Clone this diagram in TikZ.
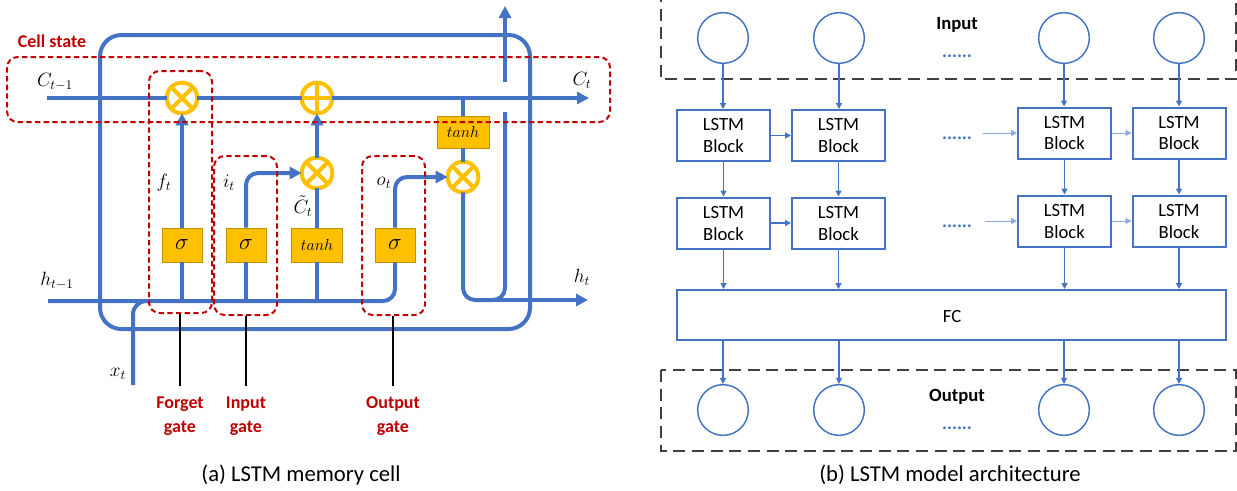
\documentclass[tikz,border=0pt]{standalone}
\usepackage{fontspec}
\setmainfont{Carlito}
\usetikzlibrary{arrows.meta}
\definecolor{lb}{HTML}{4472C4}
\definecolor{ly}{HTML}{FFC000}
\definecolor{lyd}{HTML}{BF9000}
\definecolor{lr}{HTML}{C00000}
\definecolor{dg}{HTML}{404040}
\begin{document}
\begin{tikzpicture}[x=0.75pt,y=-0.75pt,
  bl/.style={draw=lb,line width=3pt},
  arr/.style={-{Triangle[length=9pt,width=9pt]}},
  opc/.style={circle,draw=ly,line width=3pt,fill=white,minimum size=23pt,inner sep=0pt,outer sep=0pt},
  gbox/.style={rectangle,fill=ly,draw=lyd,line width=0.6pt,minimum width=30pt,minimum height=25.5pt,inner sep=0pt,font=\fontsize{13}{15}\selectfont},
  rdash/.style={rectangle,draw=lr,line width=1.5pt,dash pattern=on 4pt off 2.5pt,rounded corners=8pt,inner sep=0pt},
  mlab/.style={font=\fontsize{14}{16}\selectfont,inner sep=1pt},
  glab/.style={text=lr,font=\fontsize{13.5}{18}\selectfont\bfseries,align=center,anchor=north,inner ysep=8pt},
  gline/.style={draw=black,line width=1.2pt},
  captxt/.style={font=\fontsize{17}{20}\selectfont},
  rb/.style={rectangle,draw=lb,line width=1.5pt,fill=white,minimum width=69.75pt,minimum height=38.25pt,align=center,inner sep=0pt,font=\fontsize{14}{16.5}\selectfont},
  rc/.style={circle,draw=lb,line width=1.1pt,minimum size=38pt,inner sep=0pt},
  ra/.style={draw=lb,line width=1pt,-{Triangle[length=4.5pt,width=4.5pt]}},
  rat/.style={draw=lb!60,line width=0.6pt,-{Triangle[length=4.5pt,width=4.5pt]}},
  dbox/.style={draw=dg,line width=1.9pt,dash pattern=on 9pt off 5pt},
  dots/.style={text=lb,font=\fontsize{14}{16}\selectfont\bfseries},
  ttl/.style={font=\fontsize{14}{16}\selectfont\bfseries},
]
\useasboundingbox (0,0) rectangle (1237,490);

% ================= (a) LSTM memory cell =================
% big cell outline
\draw[bl,rounded corners=16pt] (100,35) rectangle (530,329);

% coordinates
\coordinate (cin) at (47,98);
\coordinate (cout) at (589,98);
\coordinate (cbr) at (463,98);
\coordinate (hin) at (48,301);
\coordinate (hk) at (395,301);
\coordinate (hj) at (463,300);
\coordinate (hb) at (505,300);
\coordinate (hout) at (588,300);
\coordinate (gb) at (505,112);
\coordinate (gt) at (505,82);
\coordinate (top) at (505,6);
\coordinate (xin) at (133,385);
\coordinate (xk) at (133,301);
\coordinate (xe) at (152,301);

% operators
\node[opc] (fmul) at (182,98) {};
\node[opc] (plus) at (317,98) {};
\node[opc] (imul) at (317,173) {};
\node[opc] (omul) at (463,177) {};
% boxes
\node[gbox,font=\fontsize{16}{18}\selectfont] (fsig) at (182,245) {$\sigma$};
\node[gbox,font=\fontsize{16}{18}\selectfont] (isig) at (246,245) {$\sigma$};
\node[gbox,minimum width=38pt] (tanh1) at (317,245) {$tanh$};
\node[gbox,font=\fontsize{16}{18}\selectfont] (osig) at (395,245) {$\sigma$};
\node[gbox,minimum width=39pt,minimum height=24pt] (tanh2) at (463,132) {$tanh$};

% cell state line
\draw[bl] (cin) -- (fmul);
\draw[bl] (fmul) -- (plus);
\draw[bl,arr] (plus) -- (cout);
\draw[bl] (cbr) -- (tanh2);
\draw[bl] (tanh2) -- (omul);

% hidden input line
\draw[bl,rounded corners=9pt] (hin) -- (hk) -- (osig.south);
\draw[bl,rounded corners=10pt] (xin) -- (xk) -- (xe);
\draw[bl] (fsig.south) -- (fsig.south |- hin);
\draw[bl] (isig.south) -- (isig.south |- hin);
\draw[bl] (tanh1.south) -- (tanh1.south |- hin);

% gates to operators
\draw[bl,arr] (fsig) -- (fmul);
\draw[bl,arr,rounded corners=9pt] (isig.north) |- (imul.west);
\draw[bl] (tanh1) -- (imul);
\draw[bl,arr] (imul) -- (plus);
\draw[bl,arr,rounded corners=9pt] (osig.north) |- (omul.west);

% output h
\draw[bl,rounded corners=9pt] (omul.south) -- (hj) -- (hb) -- (gb);
\draw[bl,arr] ([xshift=9pt]hj) -- (hout);
\draw[bl,arr] (gt) -- (top);

% operator symbols
\foreach \n in {fmul,imul,omul}{
  \draw[ly,line width=3pt] (\n.north west) -- (\n.south east) (\n.north east) -- (\n.south west);
}
\draw[ly,line width=3pt] (plus.north) -- (plus.south) (plus.west) -- (plus.east);

% red dashed boxes
\node[rdash,minimum width=452.25pt,minimum height=48.75pt] (cs) at (308.5,89.5) {};
\node[rdash,minimum width=47.25pt,minimum height=181.5pt] (fg) at (180.5,192) {};
\node[rdash,minimum width=47.25pt,minimum height=119.25pt] (ig) at (245.5,235.5) {};
\node[rdash,minimum width=47.25pt,minimum height=119.25pt] (og) at (393.5,235.5) {};
\node[text=lr,font=\fontsize{13.5}{16}\selectfont\bfseries] (cst) at (52,41) {Cell state};

% math labels
\node[mlab] (lc1) at (55,82) {$C_{t-1}$};
\node[mlab] (lc2) at (582,80) {$C_t$};
\node[mlab] (lf) at (164,183) {$f_t$};
\node[mlab] (li) at (229,183) {$i_t$};
\node[mlab] (lct) at (303,206) {$\tilde{C}_t$};
\node[mlab] (lo) at (384,183) {$o_t$};
\node[mlab] (lh1) at (57,281) {$h_{t-1}$};
\node[mlab] (lh2) at (582,277) {$h_t$};
\node[mlab] (lx) at (118,374) {$x_t$};

% gate labels
\node[glab] (fgl) at (180,386) {Forget\\gate};
\node[glab] (igl) at (246,386) {Input\\gate};
\node[glab] (ogl) at (393,386) {Output\\gate};
\draw[gline] (fg.south -| fgl) -- (fgl.north);
\draw[gline] (ig.south -| igl) -- (igl.north);
\draw[gline] (og.south -| ogl) -- (ogl.north);

\node[captxt] (capa) at (301,475) {(a) LSTM memory cell};

% ================= (b) LSTM model architecture =================
\draw[dbox] (661,-10) rectangle (1236,79);
\draw[dbox] (661,370) rectangle (1236,451);

\node[rc] (i1) at (723,38) {};
\node[rc] (i2) at (839,38) {};
\node[rc] (i3) at (1064,38) {};
\node[rc] (i4) at (1179,38) {};
\node[ttl] (inp) at (957,25) {Input};
\node[dots] (d0) at (957,56) {......};

\node[rb] (b11) at (723.5,135.5) {LSTM\\Block};
\node[rb] (b12) at (838.5,135.5) {LSTM\\Block};
\node[rb] (b13) at (1064.5,133) {LSTM\\Block};
\node[rb] (b14) at (1179,133) {LSTM\\Block};
\node[rb] (b21) at (723.5,223) {LSTM\\Block};
\node[rb] (b22) at (838.5,223) {LSTM\\Block};
\node[rb] (b23) at (1064.5,221) {LSTM\\Block};
\node[rb] (b24) at (1179,221) {LSTM\\Block};
\node[dots] (d1) at (957,138) {......};
\node[dots] (d2) at (957,226) {......};

\node[rb,minimum width=411.75pt,minimum height=37.5pt] (fc) at (951.5,315) {};
\node[font=\fontsize{14}{16}\selectfont] (fct) at (952,316) {FC};

\node[rc] (o1) at (723,410) {};
\node[rc] (o2) at (839,410) {};
\node[rc] (o3) at (1064,410) {};
\node[rc] (o4) at (1179,410) {};
\node[ttl] (outp) at (957,397) {Output};
\node[dots] (d3) at (957,428) {......};

\coordinate (e1) at (983,133);
\coordinate (e2) at (985,221);

\foreach \c in {1,2,3,4}{
  \draw[ra] (i\c.south) -- (i\c.south |- b1\c.north);
  \draw[ra] (b1\c.south) -- (b1\c.south |- b2\c.north);
  \draw[ra] (b2\c.south) -- (b2\c.south |- fc.north);
  \draw[ra] (fc.south -| o\c) -- (o\c.north);
}
\draw[ra] (b11) -- (b12);
\draw[ra] (b21) -- (b22);
\draw[rat] (b13) -- (b14);
\draw[rat] (b23) -- (b24);
\draw[rat] (e1) -- (b13.west);
\draw[rat] (e2) -- (b23.west);

\node[captxt] (capb) at (950,475) {(b) LSTM model architecture};
\end{tikzpicture}
\end{document}
